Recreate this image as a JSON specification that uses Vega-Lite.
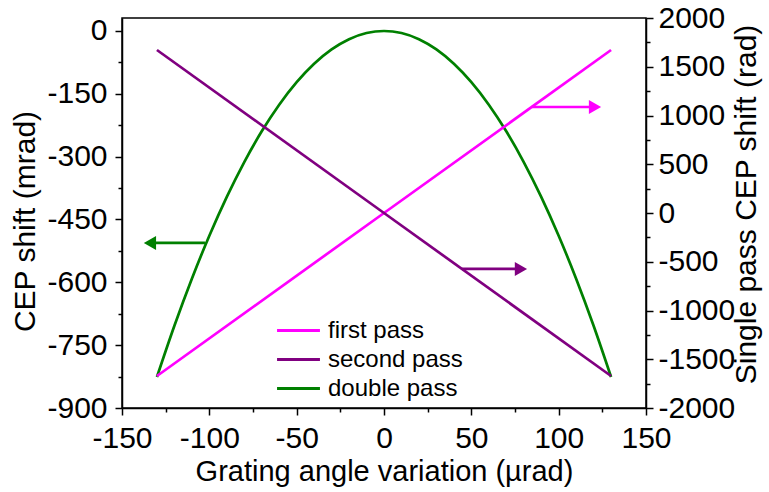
{
  "$schema": "https://vega.github.io/schema/vega-lite/v6.json",
  "width": 524,
  "height": 390,
  "autosize": {"type": "none"},
  "padding": {"left": 122, "top": 18, "right": 123, "bottom": 84},
  "config": {
    "font": "Liberation Sans",
    "view": {"stroke": "black", "strokeWidth": 1.5},
    "axis": {
      "grid": false,
      "domainColor": "black",
      "domainWidth": 1.5,
      "tickColor": "black",
      "tickWidth": 1.5,
      "labelColor": "black",
      "labelFont": "Liberation Sans",
      "titleColor": "black",
      "titleFontWeight": "normal",
      "titleFont": "Liberation Sans",
      "labelFlush": false,
      "labelOverlap": false
    }
  },
  "datasets": {
    "double": [
      {"x": -130, "y": -826.0, "series": "double pass"},
      {"x": -120, "y": -703.8, "series": "double pass"},
      {"x": -110, "y": -591.4, "series": "double pass"},
      {"x": -100, "y": -488.8, "series": "double pass"},
      {"x": -90, "y": -395.9, "series": "double pass"},
      {"x": -80, "y": -312.8, "series": "double pass"},
      {"x": -70, "y": -239.5, "series": "double pass"},
      {"x": -60, "y": -176.0, "series": "double pass"},
      {"x": -50, "y": -122.2, "series": "double pass"},
      {"x": -40, "y": -78.2, "series": "double pass"},
      {"x": -30, "y": -44.0, "series": "double pass"},
      {"x": -20, "y": -19.6, "series": "double pass"},
      {"x": -10, "y": -4.9, "series": "double pass"},
      {"x": 0, "y": 0, "series": "double pass"},
      {"x": 10, "y": -4.9, "series": "double pass"},
      {"x": 20, "y": -19.6, "series": "double pass"},
      {"x": 30, "y": -44.0, "series": "double pass"},
      {"x": 40, "y": -78.2, "series": "double pass"},
      {"x": 50, "y": -122.2, "series": "double pass"},
      {"x": 60, "y": -176.0, "series": "double pass"},
      {"x": 70, "y": -239.5, "series": "double pass"},
      {"x": 80, "y": -312.8, "series": "double pass"},
      {"x": 90, "y": -395.9, "series": "double pass"},
      {"x": 100, "y": -488.8, "series": "double pass"},
      {"x": 110, "y": -591.4, "series": "double pass"},
      {"x": 120, "y": -703.8, "series": "double pass"},
      {"x": 130, "y": -826.0, "series": "double pass"}
    ],
    "single": [
      {"x": -130, "y": -1672, "series": "first pass"},
      {"x": 0, "y": 0, "series": "first pass"},
      {"x": 130, "y": 1672, "series": "first pass"},
      {"x": -130, "y": 1672, "series": "second pass"},
      {"x": 0, "y": 0, "series": "second pass"},
      {"x": 130, "y": -1672, "series": "second pass"}
    ],
    "leftArrow": [
      {"x1": -102.5, "x2": -133, "xh": -134, "y": -506}
    ],
    "rightArrows": [
      {"x1": 84.5, "x2": 120, "xh": 120.8, "y": 1087, "c": "first"},
      {"x1": 44.7, "x2": 77.5, "xh": 78.4, "y": -574, "c": "second"}
    ]
  },
  "layer": [
    {
      "layer": [
        {
          "data": {"name": "double"},
          "mark": {"type": "line", "strokeWidth": 2.7, "interpolate": "monotone"},
          "encoding": {
            "x": {"field": "x", "type": "quantitative"},
            "color": {
              "field": "series",
              "type": "nominal",
              "scale": {"domain": ["first pass", "second pass", "double pass"], "range": ["#ff00ff", "#800080", "#008000"]},
              "legend": {
                "title": null,
                "orient": "none",
                "legendX": 160,
                "legendY": 296,
                "symbolType": "M-1.43,0H1.43",
                "symbolSize": 900,
                "symbolStrokeWidth": 3,
                "labelFontSize": 24,
                "labelFont": "Liberation Sans",
                "labelColor": "black",
                "labelOffset": 13,
                "rowPadding": 0
              }
            }
          }
        },
        {
          "data": {"name": "leftArrow"},
          "mark": {"type": "rule", "color": "#008000", "strokeWidth": 2.7},
          "encoding": {
            "x": {"field": "x1", "type": "quantitative"},
            "x2": {"field": "x2"}
          }
        },
        {
          "data": {"name": "leftArrow"},
          "mark": {"type": "point", "shape": "triangle-left", "filled": true, "color": "#008000", "size": 200, "opacity": 1},
          "encoding": {
            "x": {"field": "xh", "type": "quantitative"}
          }
        }
      ],
      "encoding": {
        "x": {
          "field": "x",
          "type": "quantitative",
          "scale": {"domain": [-150, 150], "nice": false, "zero": false},
          "axis": {
            "title": "Grating angle variation (µrad)",
            "values": [-150, -125, -100, -75, -50, -25, 0, 25, 50, 75, 100, 125, 150],
            "labelExpr": "datum.value % 50 === 0 ? '' + datum.value : ''",
            "tickSize": {"condition": {"test": "datum.value % 50 !== 0", "value": 4}, "value": 7},
            "labelFontSize": 30,
            "titleFontSize": 29,
            "labelPadding": 8,
            "titlePadding": 4
          }
        },
        "y": {
          "field": "y",
          "type": "quantitative",
          "scale": {"domain": [-900, 31], "nice": false, "zero": false},
          "axis": {
            "title": "CEP shift (mrad)",
            "orient": "left",
            "values": [-900, -825, -750, -675, -600, -525, -450, -375, -300, -225, -150, -75, 0],
            "labelExpr": "datum.value % 150 === 0 ? '' + datum.value : ''",
            "tickSize": {"condition": {"test": "datum.value % 150 !== 0", "value": 4}, "value": 7},
            "labelFontSize": 30,
            "titleFontSize": 30,
            "labelPadding": 8,
            "titlePadding": 6,
            "titleY": 203
          }
        }
      }
    },
    {
      "layer": [
        {
          "data": {"name": "single"},
          "mark": {"type": "line", "strokeWidth": 2.7},
          "encoding": {
            "x": {"field": "x", "type": "quantitative"},
            "color": {
              "field": "series",
              "type": "nominal",
              "scale": {"domain": ["first pass", "second pass", "double pass"], "range": ["#ff00ff", "#800080", "#008000"]}
            }
          }
        },
        {
          "data": {"name": "rightArrows"},
          "mark": {"type": "rule", "strokeWidth": 2.7},
          "encoding": {
            "x": {"field": "x1", "type": "quantitative"},
            "x2": {"field": "x2"},
            "stroke": {"field": "c", "type": "nominal", "scale": {"domain": ["first", "second"], "range": ["#ff00ff", "#800080"]}, "legend": null}
          }
        },
        {
          "data": {"name": "rightArrows"},
          "mark": {"type": "point", "shape": "triangle-right", "filled": true, "size": 200, "opacity": 1},
          "encoding": {
            "x": {"field": "xh", "type": "quantitative"},
            "fill": {"field": "c", "type": "nominal", "scale": {"domain": ["first", "second"], "range": ["#ff00ff", "#800080"]}, "legend": null}
          }
        }
      ],
      "encoding": {
        "x": {
          "field": "x",
          "type": "quantitative",
          "scale": {"domain": [-150, 150], "nice": false, "zero": false},
          "axis": {
            "title": "Grating angle variation (µrad)",
            "values": [-150, -125, -100, -75, -50, -25, 0, 25, 50, 75, 100, 125, 150],
            "labelExpr": "datum.value % 50 === 0 ? '' + datum.value : ''",
            "tickSize": {"condition": {"test": "datum.value % 50 !== 0", "value": 4}, "value": 7},
            "labelFontSize": 30,
            "titleFontSize": 29,
            "labelPadding": 8,
            "titlePadding": 4
          }
        },
        "y": {
          "field": "y",
          "type": "quantitative",
          "scale": {"domain": [-2000, 2000], "nice": false, "zero": false},
          "axis": {
            "title": "Single pass CEP shift (rad)",
            "orient": "right",
            "values": [-2000, -1750, -1500, -1250, -1000, -750, -500, -250, 0, 250, 500, 750, 1000, 1250, 1500, 1750, 2000],
            "labelExpr": "datum.value % 500 === 0 ? '' + datum.value : ''",
            "tickSize": {"condition": {"test": "datum.value % 500 !== 0", "value": 4}, "value": 7},
            "labelFontSize": 30,
            "titleFontSize": 30,
            "labelPadding": 5,
            "titleAngle": 270,
            "titlePadding": 27,
            "titleY": 186
          }
        }
      }
    }
  ],
  "resolve": {"scale": {"y": "independent", "stroke": "independent", "fill": "independent"}, "axis": {"y": "independent"}}
}
